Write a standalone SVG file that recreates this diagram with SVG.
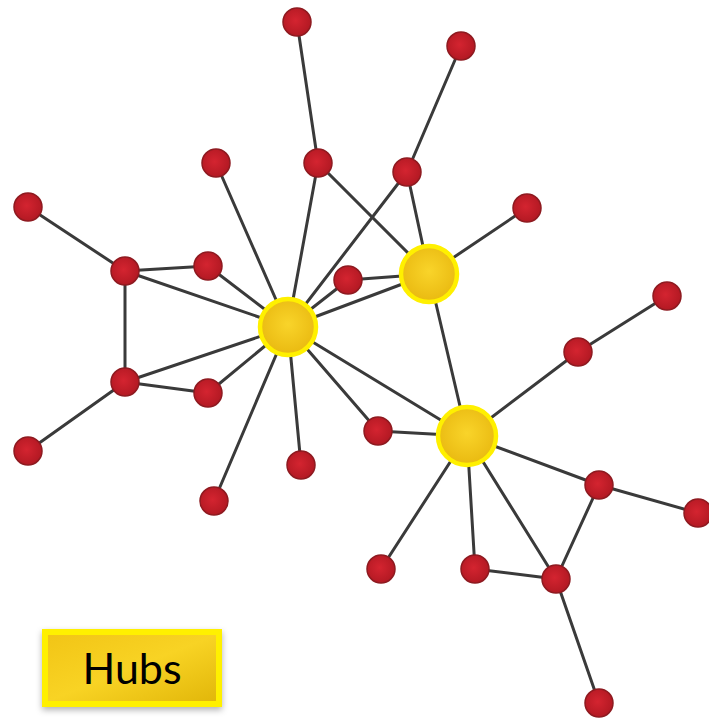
<svg xmlns="http://www.w3.org/2000/svg" width="709" height="721" viewBox="0 0 709 721">
<defs>
<radialGradient id="hubg" cx="0.5" cy="0.45" r="0.6">
<stop offset="0" stop-color="#F9D42A"/>
<stop offset="1" stop-color="#E8B70E"/>
</radialGradient>
<radialGradient id="redg" cx="0.45" cy="0.45" r="0.6">
<stop offset="0" stop-color="#D42430"/>
<stop offset="1" stop-color="#B01822"/>
</radialGradient>
<linearGradient id="boxg" x1="0" y1="0" x2="1" y2="1">
<stop offset="0" stop-color="#F2C516"/>
<stop offset="0.5" stop-color="#F8D324"/>
<stop offset="1" stop-color="#E2B70A"/>
</linearGradient>
<filter id="sh" x="-20%" y="-20%" width="140%" height="150%">
<feDropShadow dx="0" dy="3" stdDeviation="3" flood-color="#000" flood-opacity="0.3"/>
</filter>
</defs>
<style>
.e{stroke:#3a3a3a;stroke-width:3;fill:none;stroke-linecap:round}
.n{fill:url(#redg);stroke:#8e1a20;stroke-width:1.5}
.h{fill:url(#hubg);stroke:#FFF000;stroke-width:4.5}
.t{font-family:Lato,"Open Sans",sans-serif;font-size:43px;fill:#000}
</style>
<rect width="709" height="721" fill="#fff"/>
<g id="connectors">
<line class="e" x1="297" y1="22" x2="318" y2="163"/>
<line class="e" x1="461" y1="46" x2="407" y2="172"/>
<line class="e" x1="216" y1="163" x2="288" y2="327"/>
<line class="e" x1="318" y1="163" x2="288" y2="327"/>
<line class="e" x1="318" y1="163" x2="429" y2="274"/>
<line class="e" x1="407" y1="172" x2="288" y2="327"/>
<line class="e" x1="407" y1="172" x2="429" y2="274"/>
<line class="e" x1="28" y1="207" x2="125" y2="271"/>
<line class="e" x1="125" y1="271" x2="208" y2="266"/>
<line class="e" x1="125" y1="271" x2="288" y2="327"/>
<line class="e" x1="125" y1="271" x2="125" y2="382"/>
<line class="e" x1="208" y1="266" x2="288" y2="327"/>
<line class="e" x1="348" y1="280" x2="288" y2="327"/>
<line class="e" x1="348" y1="280" x2="429" y2="274"/>
<line class="e" x1="527" y1="208" x2="429" y2="274"/>
<line class="e" x1="288" y1="327" x2="429" y2="274"/>
<line class="e" x1="429" y1="274" x2="467" y2="436"/>
<line class="e" x1="667" y1="296" x2="578" y2="352"/>
<line class="e" x1="578" y1="352" x2="467" y2="436"/>
<line class="e" x1="125" y1="382" x2="288" y2="327"/>
<line class="e" x1="125" y1="382" x2="208" y2="393"/>
<line class="e" x1="125" y1="382" x2="28" y2="451"/>
<line class="e" x1="208" y1="393" x2="288" y2="327"/>
<line class="e" x1="378" y1="431" x2="288" y2="327"/>
<line class="e" x1="378" y1="431" x2="467" y2="436"/>
<line class="e" x1="301" y1="465" x2="288" y2="327"/>
<line class="e" x1="214" y1="501" x2="288" y2="327"/>
<line class="e" x1="288" y1="327" x2="467" y2="436"/>
<line class="e" x1="599" y1="485" x2="467" y2="436"/>
<line class="e" x1="599" y1="485" x2="698" y2="513"/>
<line class="e" x1="599" y1="485" x2="556" y2="579"/>
<line class="e" x1="381" y1="569" x2="467" y2="436"/>
<line class="e" x1="475" y1="569" x2="467" y2="436"/>
<line class="e" x1="475" y1="569" x2="556" y2="579"/>
<line class="e" x1="556" y1="579" x2="467" y2="436"/>
<line class="e" x1="556" y1="579" x2="599" y2="703"/>
</g>
<g id="nodes">
<g id="nA"><circle class="n" cx="297" cy="22" r="14"/></g>
<g id="nB"><circle class="n" cx="461" cy="46" r="14"/></g>
<g id="nC"><circle class="n" cx="216" cy="163" r="14"/></g>
<g id="nD"><circle class="n" cx="318" cy="163" r="14"/></g>
<g id="nE"><circle class="n" cx="407" cy="172" r="14"/></g>
<g id="nF"><circle class="n" cx="28" cy="207" r="14"/></g>
<g id="nG"><circle class="n" cx="527" cy="208" r="14"/></g>
<g id="nH"><circle class="n" cx="125" cy="271" r="14"/></g>
<g id="nI"><circle class="n" cx="208" cy="266" r="14"/></g>
<g id="nJ"><circle class="n" cx="348" cy="280" r="14"/></g>
<g id="nK"><circle class="n" cx="667" cy="296" r="14"/></g>
<g id="nL"><circle class="n" cx="578" cy="352" r="14"/></g>
<g id="nM"><circle class="n" cx="125" cy="382" r="14"/></g>
<g id="nN"><circle class="n" cx="208" cy="393" r="14"/></g>
<g id="nO"><circle class="n" cx="28" cy="451" r="14"/></g>
<g id="nP"><circle class="n" cx="378" cy="431" r="14"/></g>
<g id="nQ"><circle class="n" cx="301" cy="465" r="14"/></g>
<g id="nR"><circle class="n" cx="214" cy="501" r="14"/></g>
<g id="nS"><circle class="n" cx="599" cy="485" r="14"/></g>
<g id="nT"><circle class="n" cx="698" cy="513" r="14"/></g>
<g id="nU"><circle class="n" cx="381" cy="569" r="14"/></g>
<g id="nV"><circle class="n" cx="475" cy="569" r="14"/></g>
<g id="nW"><circle class="n" cx="556" cy="579" r="14"/></g>
<g id="nX"><circle class="n" cx="599" cy="703" r="14"/></g>
<g id="hub1"><circle class="h" cx="288" cy="327" r="28"/></g>
<g id="hub2"><circle class="h" cx="429" cy="274" r="28"/></g>
<g id="hub3"><circle class="h" cx="467" cy="436" r="29"/></g>
</g>
<g id="legend">
<rect x="42" y="629" width="180" height="78" fill="#FFF000" filter="url(#sh)"/>
<rect x="48" y="635" width="168" height="66" fill="url(#boxg)"/>
<text class="t" x="132" y="684" text-anchor="middle">Hubs</text>
</g>
</svg>
